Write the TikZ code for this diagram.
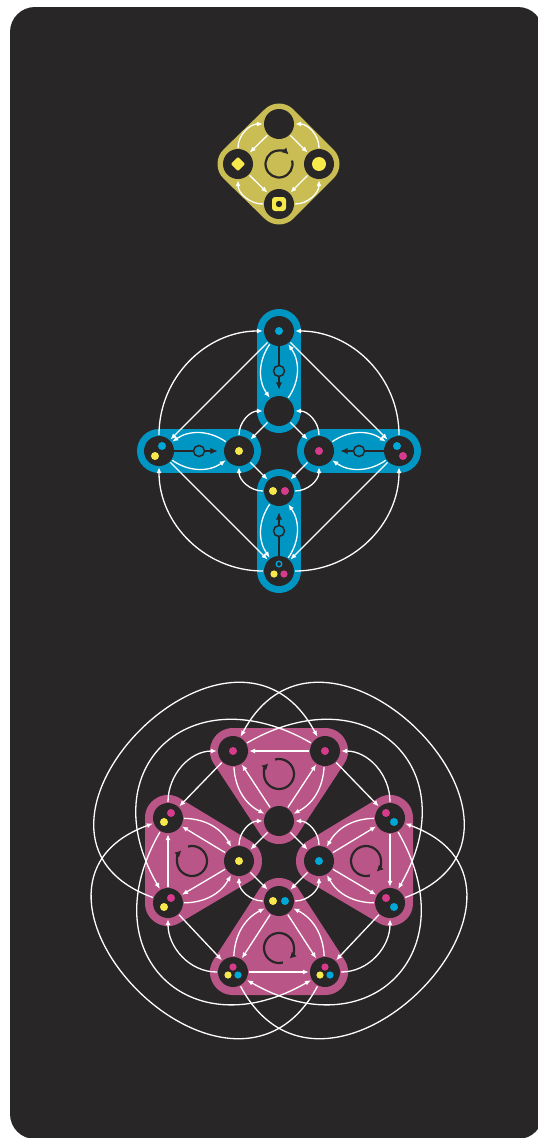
\documentclass[tikz,border=0pt]{standalone}
\usetikzlibrary{arrows.meta}
\definecolor{bgc}{RGB}{40,38,39}
\definecolor{ochre}{RGB}{201,189,83}
\definecolor{lemon}{RGB}{247,233,75}
\definecolor{sky}{RGB}{0,150,196}
\definecolor{aqua}{RGB}{0,168,216}
\definecolor{rose}{RGB}{186,85,136}
\definecolor{berry}{RGB}{215,60,140}
\pgfdeclarelayer{back}
\pgfdeclarelayer{bg}
\pgfsetlayers{back,bg,main}
\tikzset{
  st/.style={circle, fill=bgc, minimum size=30pt, inner sep=0pt},
  wa/.style={white, line width=1.3pt, -{Latex[length=6pt,width=5pt]}, shorten >=1pt, shorten <=1pt},
  dk/.style={bgc, line width=2pt, -{Latex[length=7.5pt,width=6.5pt]}, shorten >=6pt},
  ring/.style={circle, draw=bgc, line width=1.5pt, fill=sky, minimum size=11pt, inner sep=0pt},
  spin/.style={bgc, line width=2.2pt, -{Latex[length=6.5pt,width=7pt]}},
}
\newcommand\kite[4]{
  \draw[wa] (#1) -- (#2);
  \draw[wa] (#1) -- (#3);
  \draw[wa] (#2) -- (#4);
  \draw[wa] (#3) -- (#4);
  \draw[wa] (#2) to[out=90,in=180] (#1);
  \draw[wa] (#3) to[out=90,in=0] (#1);
  \draw[wa] (#4) to[out=180,in=-90] (#2);
  \draw[wa] (#4) to[out=0,in=-90] (#3);
}
\begin{document}
\begin{tikzpicture}[x=1pt, y=1pt]
\useasboundingbox (0,0) rectangle (538,-1138);
\begin{pgfonlayer}{back}
  \begin{scope}
    \clip (0,0) rectangle (538,-1138);
    \fill[bgc, rounded corners=25pt] (10,-7) rectangle (543,-1139);
  \end{scope}
\end{pgfonlayer}

\begin{scope}[shift={(279,-164)}]
  \node[st] (Y1) at (0,40) {};
  \node[st] (Y2) at (-41,0) {};
  \node[st] (Y3) at (40,0) {};
  \node[st] (Y4) at (0,-40) {};
  \begin{pgfonlayer}{bg}
    \filldraw[ochre, line width=41pt, line join=round] (Y1.center) -- (Y3.center) -- (Y4.center) -- (Y2.center) -- cycle;
  \end{pgfonlayer}
  \node[fill=lemon, rotate=45, minimum size=10pt, inner sep=0pt, rounded corners=1pt] (Y2m) at (Y2) {};
  \fill[lemon] (Y3) circle (7);
  \fill[lemon, rounded corners=3pt] (Y4) ++(-7,-7) rectangle ++(14,14);
  \fill[bgc] (Y4) circle (3.2);
  \draw[spin] (0,0) ++(15:13.5) arc[start angle=15, end angle=-315, radius=13.5];
  \kite{Y1}{Y2}{Y3}{Y4}
\end{scope}

\begin{scope}[shift={(279,-451)}]
  \node[st] (BT) at (0,120) {};
  \node[st] (BIT) at (0,40) {};
  \node[st] (BL) at (-120,0) {};
  \node[st] (BIL) at (-40,0) {};
  \node[st] (BIR) at (40,0) {};
  \node[st] (BR) at (120,0) {};
  \node[st] (BIB) at (0,-40) {};
  \node[st] (BB) at (0,-120) {};
  \begin{pgfonlayer}{bg}
    \draw[sky, line width=44pt, line cap=round] (BT.center) -- (BIT.center);
    \draw[sky, line width=44pt, line cap=round] (BL.center) -- (BIL.center);
    \draw[sky, line width=44pt, line cap=round] (BR.center) -- (BIR.center);
    \draw[sky, line width=44pt, line cap=round] (BB.center) -- (BIB.center);
  \end{pgfonlayer}
  \fill[aqua] (BT) circle (4);
  \fill[aqua] (BL) ++(3,5) circle (4);
  \fill[lemon] (BL) ++(-4,-5) circle (4);
  \fill[lemon] (BIL) circle (4);
  \fill[berry] (BIR) circle (4);
  \fill[aqua] (BR) ++(-2,5) circle (4);
  \fill[berry] (BR) ++(4,-5) circle (4);
  \fill[lemon] (BIB) ++(-6,0) circle (4);
  \fill[berry] (BIB) ++(6,0) circle (4);
  \draw[aqua, line width=1.3pt] (BB) ++(0,7) circle (2.8);
  \fill[lemon] (BB) ++(-5,-3) circle (3.6);
  \fill[berry] (BB) ++(5,-3) circle (3.6);
  \draw[dk] (BT) -- node[ring] (R1) {} (BIT);
  \draw[dk] (BL) -- node[ring] (R2) {} (BIL);
  \draw[dk] (BR) -- node[ring] (R3) {} (BIR);
  \draw[dk] (BB) -- node[ring] (R4) {} (BIB);
  \draw[wa] (BT) to[bend right=35] (BIT);
  \draw[wa] (BIT) to[bend right=35] (BT);
  \draw[wa] (BIL) to[bend right=35] (BL);
  \draw[wa] (BL) to[bend right=35] (BIL);
  \draw[wa] (BIR) to[bend left=35] (BR);
  \draw[wa] (BR) to[bend left=35] (BIR);
  \draw[wa] (BIB) to[bend right=35] (BB);
  \draw[wa] (BB) to[bend right=35] (BIB);
  \kite{BT}{BL}{BR}{BB}
  \kite{BIT}{BIL}{BIR}{BIB}
\end{scope}

\begin{scope}[shift={(279,-861)}]
  \node[st] (MA) at (-46,110) {};
  \node[st] (MB) at (46,110) {};
  \node[st] (MC) at (0,40) {};
  \node[st] (MLT) at (-111,43) {};
  \node[st] (MLB) at (-111,-42) {};
  \node[st] (MLI) at (-40,0) {};
  \node[st] (MRT) at (111,43) {};
  \node[st] (MRB) at (111,-42) {};
  \node[st] (MRI) at (40,0) {};
  \node[st] (MBI) at (0,-40) {};
  \node[st] (MBL) at (-46,-111) {};
  \node[st] (MBR) at (46,-111) {};
  \begin{pgfonlayer}{bg}
    \filldraw[rose, line width=46pt, line join=round] (MA.center) -- (MB.center) -- (MC.center) -- cycle;
    \filldraw[rose, line width=46pt, line join=round] (MLT.center) -- (MLI.center) -- (MLB.center) -- cycle;
    \filldraw[rose, line width=46pt, line join=round] (MRT.center) -- (MRI.center) -- (MRB.center) -- cycle;
    \filldraw[rose, line width=46pt, line join=round] (MBL.center) -- (MBI.center) -- (MBR.center) -- cycle;
  \end{pgfonlayer}
  \fill[berry] (MA) circle (4);
  \fill[berry] (MB) circle (4);
  \fill[berry] (MLT) ++(3,5) circle (4);
  \fill[lemon] (MLT) ++(-4,-4) circle (4);
  \fill[berry] (MLB) ++(3,5) circle (4);
  \fill[lemon] (MLB) ++(-4,-4) circle (4);
  \fill[lemon] (MLI) circle (4);
  \fill[berry] (MRT) ++(-4,5) circle (4);
  \fill[aqua] (MRT) ++(4,-4) circle (4);
  \fill[berry] (MRB) ++(-4,5) circle (4);
  \fill[aqua] (MRB) ++(4,-4) circle (4);
  \fill[aqua] (MRI) circle (4);
  \fill[lemon] (MBI) ++(-6,0) circle (4);
  \fill[aqua] (MBI) ++(6,0) circle (4);
  \fill[berry] (MBL) ++(0,5) circle (3.6);
  \fill[lemon] (MBL) ++(-5,-3) circle (3.6);
  \fill[aqua] (MBL) ++(5,-3) circle (3.6);
  \fill[berry] (MBR) ++(0,5) circle (3.6);
  \fill[lemon] (MBR) ++(-5,-3) circle (3.6);
  \fill[aqua] (MBR) ++(5,-3) circle (3.6);
  \draw[spin] (0,87) ++(105:15) arc[start angle=105, end angle=-225, radius=15];
  \draw[spin] (-87,0) ++(105:15) arc[start angle=105, end angle=-225, radius=15];
  \draw[spin] (87,0) ++(-75:15) arc[start angle=-75, end angle=-405, radius=15];
  \draw[spin] (0,-87) ++(-75:15) arc[start angle=-75, end angle=-405, radius=15];
  \draw[wa] (MB) -- (MA);
  \draw[wa] (MC) -- (MA);
  \draw[wa] (MC) -- (MB);
  \draw[wa] (MA) to[bend right=30] (MC);
  \draw[wa] (MB) to[bend left=30] (MC);
  \draw[wa] (MLB) -- (MLT);
  \draw[wa] (MLI) -- (MLT);
  \draw[wa] (MLI) -- (MLB);
  \draw[wa] (MLT) to[bend left=30] (MLI);
  \draw[wa] (MLB) to[bend right=30] (MLI);
  \draw[wa] (MRT) -- (MRB);
  \draw[wa] (MRI) -- (MRT);
  \draw[wa] (MRI) -- (MRB);
  \draw[wa] (MRT) to[bend right=30] (MRI);
  \draw[wa] (MRB) to[bend left=30] (MRI);
  \draw[wa] (MBL) -- (MBR);
  \draw[wa] (MBI) -- (MBL);
  \draw[wa] (MBI) -- (MBR);
  \draw[wa] (MBL) to[bend left=30] (MBI);
  \draw[wa] (MBR) to[bend right=30] (MBI);
  \kite{MC}{MLI}{MRI}{MBI}
  \draw[wa] (MA) -- (MLT);
  \draw[wa] (MLT) to[out=90,in=180] (MA);
  \draw[wa] (MB) -- (MRT);
  \draw[wa] (MRT) to[out=90,in=0] (MB);
  \draw[wa] (MLB) -- (MBL);
  \draw[wa] (MBL) to[out=180,in=-90] (MLB);
  \draw[wa] (MRB) -- (MBR);
  \draw[wa] (MBR) to[out=0,in=-90] (MRB);
  \draw[wa] (MLB) to[out=160,in=118,looseness=2.05] (MB);
  \draw[wa] (MB) to[out=150,in=120,looseness=1.7] (MLB);
  \draw[wa] (MRB) to[out=20,in=62,looseness=2.05] (MA);
  \draw[wa] (MA) to[out=30,in=60,looseness=1.7] (MRB);
  \draw[wa] (MBR) to[out=242,in=200,looseness=2.05] (MLT);
  \draw[wa] (MLT) to[out=240,in=210,looseness=1.7] (MBR);
  \draw[wa] (MBL) to[out=298,in=340,looseness=2.05] (MRT);
  \draw[wa] (MRT) to[out=300,in=330,looseness=1.7] (MBL);
\end{scope}
\end{tikzpicture}
\end{document}
